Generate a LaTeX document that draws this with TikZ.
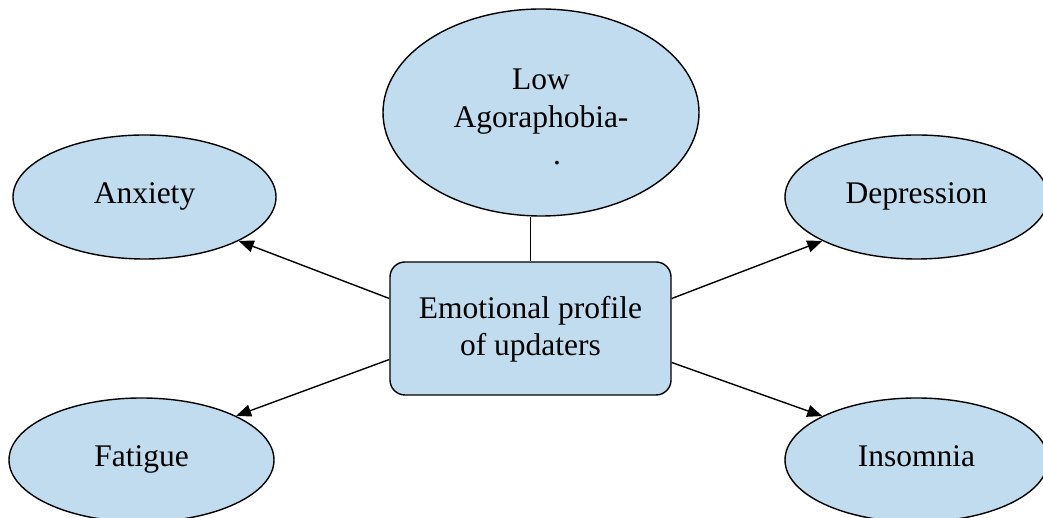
\documentclass[tikz,border=0pt]{standalone}
\usepackage{fontspec}
\setmainfont{Liberation Serif}
\usetikzlibrary{shapes.geometric,arrows.meta}
\definecolor{bubble}{RGB}{192,220,238}
\begin{document}
\begin{tikzpicture}[x=1pt,y=1pt,
    every node/.style={font=\fontsize{31.5}{37.5}\selectfont, align=center},
    oval/.style={ellipse, draw, fill=bubble, line width=1.4pt, inner sep=0pt},
    small oval/.style={oval, minimum width=263pt, minimum height=124pt, text height=21pt, text depth=7pt},
    hub/.style={rectangle, draw, fill=bubble, line width=1.4pt, rounded corners=15pt,
      minimum width=281pt, minimum height=133pt},
    link/.style={line width=1.4pt, -{Triangle[length=15pt,width=12pt]}}]
    \useasboundingbox (0,0) rectangle (1043,518);
    \node[hub] (box) at (530.5,189.5) {\rule{0pt}{24pt}Emotional profile\\of updaters};
    \node[oval, minimum width=316pt, minimum height=207pt] (low) at (541,405.5) {\rule{0pt}{30pt}Low\\Agoraphobia-\\\hspace*{32pt}.};
    \node[small oval] (anx) at (144.5,321) {Anxiety};
    \node[small oval] (dep) at (916.5,321) {Depression};
    \node[small oval, minimum width=265pt] (fat) at (141.5,58) {Fatigue};
    \node[small oval] (ins) at (916.5,58) {Insomnia};

    \draw [line width=1.4pt] (box.north) -- (box.north |- low.south);
    \draw [link] ([yshift=30pt]box.west) -- (anx.-25);
    \draw [link] ([yshift=-31pt]box.west) -- (fat.25);
    \draw [link] ([yshift=30pt]box.east) -- (dep.205);
    \draw [link] ([yshift=-34pt]box.east) -- (ins.155);
\end{tikzpicture}
\end{document}
